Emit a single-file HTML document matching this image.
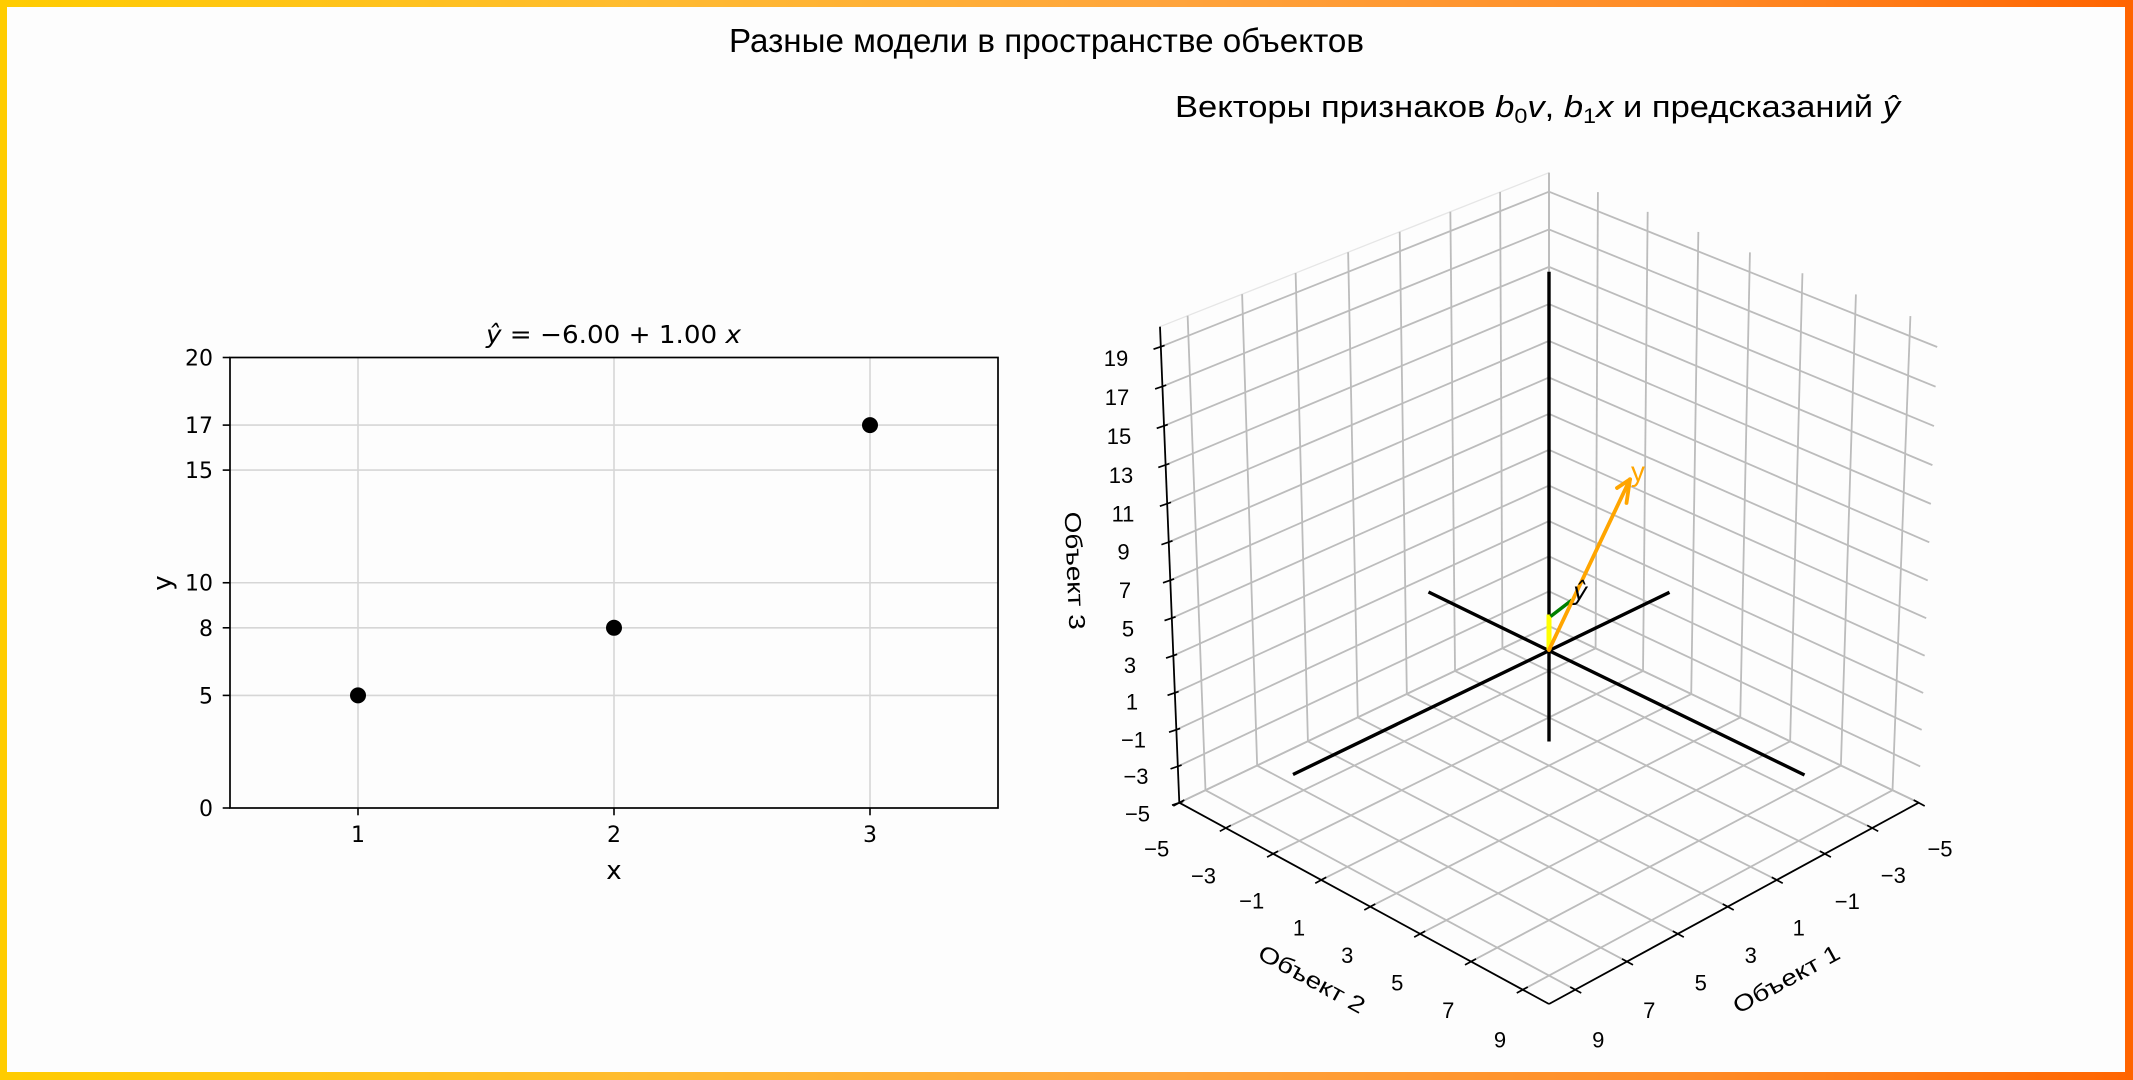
<!DOCTYPE html>
<html><head><meta charset="utf-8">
<style>
html,body{margin:0;padding:0;background:#fdfdfd;}
svg{display:block;}
.cm{font-family:"Liberation Sans","DejaVu Sans",sans-serif;}
.dj{font-family:"DejaVu Sans","Liberation Sans",sans-serif;}
</style></head><body>
<svg id="root" width="2133" height="1080" viewBox="0 0 2133 1080" xmlns="http://www.w3.org/2000/svg">
<defs>
<linearGradient id="bgr" x1="0" y1="0" x2="1" y2="0">
<stop offset="0" stop-color="#ffcc00"/>
<stop offset="0.3" stop-color="#ffbb30"/>
<stop offset="0.55" stop-color="#ffa43c"/>
<stop offset="0.8" stop-color="#ff8a25"/>
<stop offset="1" stop-color="#ff6400"/>
</linearGradient>
</defs>
<rect width="2133" height="1080" fill="url(#bgr)"/>
<rect x="7" y="7" width="2118" height="1065" fill="#fdfdfd"/>

<!-- main title -->
<text class="cm" x="729" y="52" font-size="33" textLength="635" lengthAdjust="spacingAndGlyphs" fill="#000">Разные модели в пространстве объектов</text>

<!-- ============ LEFT PLOT ============ -->
<g stroke="#d6d6d6" stroke-width="1.6">
<line x1="358" y1="357.5" x2="358" y2="808"/>
<line x1="614" y1="357.5" x2="614" y2="808"/>
<line x1="870" y1="357.5" x2="870" y2="808"/>
<line x1="230" y1="695.4" x2="998" y2="695.4"/>
<line x1="230" y1="627.8" x2="998" y2="627.8"/>
<line x1="230" y1="582.75" x2="998" y2="582.75"/>
<line x1="230" y1="470.1" x2="998" y2="470.1"/>
<line x1="230" y1="425.1" x2="998" y2="425.1"/>
</g>
<rect x="230" y="357.5" width="768" height="450.5" fill="none" stroke="#000" stroke-width="1.7"/>
<g stroke="#000" stroke-width="1.6">
<line x1="222.7" y1="808" x2="230" y2="808"/>
<line x1="222.7" y1="695.4" x2="230" y2="695.4"/>
<line x1="222.7" y1="627.8" x2="230" y2="627.8"/>
<line x1="222.7" y1="582.75" x2="230" y2="582.75"/>
<line x1="222.7" y1="470.1" x2="230" y2="470.1"/>
<line x1="222.7" y1="425.1" x2="230" y2="425.1"/>
<line x1="222.7" y1="357.5" x2="230" y2="357.5"/>
<line x1="358" y1="808" x2="358" y2="815.3"/>
<line x1="614" y1="808" x2="614" y2="815.3"/>
<line x1="870" y1="808" x2="870" y2="815.3"/>
</g>
<g class="dj" font-size="22" text-anchor="end" fill="#000">
<text x="213" y="816">0</text>
<text x="213" y="703.4">5</text>
<text x="213" y="635.8">8</text>
<text x="213" y="590.7">10</text>
<text x="213" y="478.1">15</text>
<text x="213" y="433.1">17</text>
<text x="213" y="365.5">20</text>
</g>
<g class="dj" font-size="22" text-anchor="middle" fill="#000">
<text x="358" y="842">1</text>
<text x="614" y="842">2</text>
<text x="870" y="842">3</text>
</g>
<text class="dj" x="614" y="879" font-size="26" text-anchor="middle">x</text>
<text class="dj" font-size="26" text-anchor="middle" transform="translate(171,583) rotate(-90)">y</text>
<g fill="#000">
<circle cx="358" cy="695.4" r="8"/>
<circle cx="614" cy="627.8" r="8"/>
<circle cx="870" cy="425.1" r="8"/>
</g>
<text class="dj" x="486" y="343" font-size="25" textLength="255" lengthAdjust="spacingAndGlyphs"><tspan font-style="italic">ŷ</tspan> = −6.00 + 1.00 <tspan font-style="italic">x</tspan></text>

<!-- ============ 3D PLOT ============ -->
<text class="cm" x="1175" y="117" font-size="31" textLength="725" lengthAdjust="spacingAndGlyphs">Векторы признаков <tspan font-style="italic">b</tspan><tspan font-size="21" dy="6">0</tspan><tspan font-style="italic" dy="-6">v</tspan>, <tspan font-style="italic">b</tspan><tspan font-size="21" dy="6">1</tspan><tspan font-style="italic" dy="-6">x</tspan> и предсказаний <tspan font-style="italic">ŷ</tspan></text>

<line x1="1160" y1="326.7" x2="1549" y2="172.7" stroke="#e6e6e6" stroke-width="1.3"/>
<g id="g3" stroke="#bcbcbc" stroke-width="1.8" fill="none"></g>

<g stroke="#000" stroke-width="1.8" fill="none">
<line x1="1160" y1="326.7" x2="1179.3" y2="802.7"/>
<line x1="1179.3" y1="802.7" x2="1549" y2="1004"/>
<line x1="1549" y1="1004" x2="1918.7" y2="802.7"/>
</g>
<g id="tk3" stroke="#000" stroke-width="1.7" fill="none"></g>

<g class="cm" font-size="22" text-anchor="middle" fill="#000">
<text x="1116" y="366">19</text>
<text x="1117" y="405">17</text>
<text x="1119" y="444">15</text>
<text x="1121" y="483">13</text>
<text x="1123" y="521.5">11</text>
<text x="1123.5" y="559.5">9</text>
<text x="1125" y="598">7</text>
<text x="1128" y="636.5">5</text>
<text x="1130" y="673">3</text>
<text x="1132" y="709.5">1</text>
<text x="1133.5" y="747.5">−1</text>
<text x="1136" y="784">−3</text>
<text x="1137.5" y="821.5">−5</text>

<text x="1156.7" y="856.3">−5</text>
<text x="1203.5" y="883.5">−3</text>
<text x="1251.7" y="908.7">−1</text>
<text x="1299" y="935.3">1</text>
<text x="1347.3" y="963">3</text>
<text x="1397.3" y="990.7">5</text>
<text x="1448.3" y="1018">7</text>
<text x="1500" y="1047.3">9</text>

<text x="1940" y="856.3">−5</text>
<text x="1893.3" y="883">−3</text>
<text x="1847.3" y="909">−1</text>
<text x="1798.7" y="935.3">1</text>
<text x="1750.7" y="963">3</text>
<text x="1700.7" y="990.7">5</text>
<text x="1649.3" y="1018">7</text>
<text x="1598.3" y="1047.3">9</text>
</g>

<g class="cm" font-size="23" text-anchor="middle" fill="#000">
<text transform="translate(1067,571) rotate(87.7)" textLength="118" lengthAdjust="spacingAndGlyphs">Объект 3</text>
<text transform="translate(1308,986) rotate(28.6)" textLength="118" lengthAdjust="spacingAndGlyphs">Объект 2</text>
<text transform="translate(1790,986) rotate(-28.6)" textLength="118" lengthAdjust="spacingAndGlyphs">Объект 1</text>
</g>

<!-- data axis lines -->
<g stroke="#000" stroke-width="3.4" fill="none">
<line x1="1428.5" y1="592" x2="1804.5" y2="775"/>
<line x1="1669.5" y1="592.3" x2="1293" y2="774.5"/>
<line x1="1549" y1="271.7" x2="1549" y2="741.5"/>
</g>

<!-- vectors -->
<line x1="1549" y1="650" x2="1549" y2="614.5" stroke="#ffff00" stroke-width="5"/>
<line x1="1550.5" y1="616.5" x2="1572" y2="600" stroke="#008000" stroke-width="3.5"/>
<g stroke="#ffa500" stroke-width="3.8" fill="none" stroke-linecap="round">
<line x1="1549" y1="650" x2="1630" y2="479.3"/>
<line x1="1630" y1="479.3" x2="1617" y2="488"/>
<line x1="1630" y1="479.3" x2="1626.5" y2="503"/>
</g>
<text class="cm" x="1631" y="481" font-size="28" fill="#ffa500">y</text>
<text class="dj" x="1573" y="600" font-size="25" font-style="italic" fill="#000">ŷ</text>
</svg>
<script>
(function(){
var NS="http://www.w3.org/2000/svg";
function H(p00,p10,p11,p01){
  var x0=p00[0],y0=p00[1],x1=p10[0],y1=p10[1],x2=p11[0],y2=p11[1],x3=p01[0],y3=p01[1];
  var dx1=x1-x2,dx2=x3-x2,dy1=y1-y2,dy2=y3-y2;
  var sx=x0-x1+x2-x3,sy=y0-y1+y2-y3;
  var den=dx1*dy2-dx2*dy1;
  var g=(sx*dy2-dx2*sy)/den,h=(dx1*sy-sx*dy1)/den;
  var a=x1-x0+g*x1,b=x3-x0+h*x3,c=x0,d=y1-y0+g*y1,e=y3-y0+h*y3,f=y0;
  return function(u,v){var w=g*u+h*v+1;return [(a*u+b*v+c)/w,(d*u+e*v+f)/w];};
}
var Bb=[1549,626],Bt=[1549,172.7],Lb=[1179.3,802.7],Lt=[1160,326.7],Rb=[1918.7,802.7],Rt=[1938,327],Fp=[1549,1004];
var LW=H(Bb,Lb,Lt,Bt),RW=H(Bb,Rb,Rt,Bt),FL=H(Bb,Lb,Fp,Rb);
var g3=document.getElementById('g3'),tk=document.getElementById('tk3');
function ln(par,p,q){var el=document.createElementNS(NS,'line');
  el.setAttribute('x1',p[0].toFixed(2));el.setAttribute('y1',p[1].toFixed(2));
  el.setAttribute('x2',q[0].toFixed(2));el.setAttribute('y2',q[1].toFixed(2));par.appendChild(el);}
var xt=[-5,-3,-1,1,3,5,7,9],zt=[-5,-3,-1,1,3,5,7,9,11,13,15,17,19];
xt.forEach(function(t){var u=(t+5)/15;
  ln(g3,LW(u,0),LW(u,1));ln(g3,RW(u,0),RW(u,1));
  ln(g3,FL(u,0),FL(u,1));ln(g3,FL(0,u),FL(1,u));});
zt.forEach(function(z){var v=(z+5)/25;ln(g3,LW(0,v),LW(1,v));ln(g3,RW(0,v),RW(1,v));});
zt.forEach(function(z){var p=LW(1,(z+5)/25);ln(tk,[p[0]-7.3,p[1]+2.5],[p[0]+3.8,p[1]-1.3]);});
xt.forEach(function(y){var p=FL(1,(y+5)/15);ln(tk,[p[0]-6,p[1]+3.3],[p[0]+5,p[1]-2.7]);});
xt.forEach(function(x){var p=FL((x+5)/15,1);ln(tk,[p[0]+6,p[1]+3.3],[p[0]-5,p[1]-2.7]);});
})();
</script>
</body></html>
